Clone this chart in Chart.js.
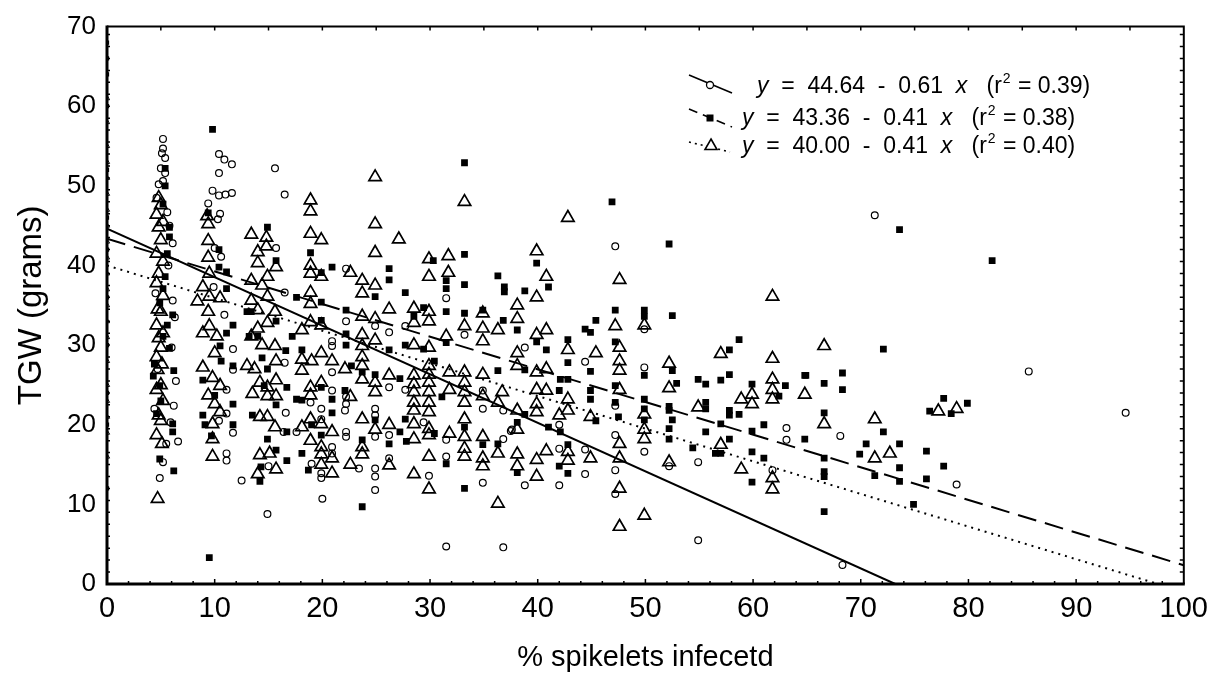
<!DOCTYPE html>
<html>
<head>
<meta charset="utf-8">
<script src="https://cdn.jsdelivr.net/npm/chart.js@4.4.1/dist/chart.umd.min.js"></script>
<style>
  html, body { margin: 0; padding: 0; background: #fff; }
  #wrap { width: 1216px; height: 677px; }
</style>
</head>
<body>
<div id="wrap"><canvas id="tgw"></canvas></div>
<script>
// TGW vs % spikelets infected — three series (circles, squares, triangles) + fitted lines

// x tick values / y tick values
const xTicks = [0, 10, 20, 30, 40, 50, 60, 70, 80, 90, 100];
const yTicks = [0, 10, 20, 30, 40, 50, 60, 70];

// open circles  [x, y]
const circlePts = [
    [5.2,55.9],[5.2,54.7],[5.1,54.1],[5.4,53.5],[5.0,52.2],[5.4,51.6],[4.8,50.2],[5.2,50.6],[4.6,48.5],[5.6,46.7],
    [5.8,45.0],[6.1,42.8],[5.7,40.0],[4.5,36.5],[6.1,35.6],[6.3,33.5],[6.0,29.7],[4.7,27.0],[6.4,25.5],[6.2,22.4],
    [4.4,22.0],[5.9,20.3],[6.6,17.9],[5.5,17.6],[5.2,15.3],[4.9,13.3],
    [10.4,54.0],[10.9,53.3],[11.6,52.7],[10.4,51.6],[9.8,49.4],[10.4,48.8],[11.0,48.9],[11.6,49.1],[9.4,47.8],[10.5,46.5],
    [10.3,45.8],[10.0,42.2],[10.6,41.1],[9.9,37.3],[10.9,33.8],[11.7,29.5],[11.7,26.9],[11.1,24.4],[11.1,21.4],[11.7,19.0],
    [11.1,16.4],[11.1,15.5],[10.4,20.5],
    [15.6,52.2],[12.5,13.0],[14.9,8.8],[15.7,42.2],[15.0,14.8],[16.4,19.1],
    [16.5,48.9],[22.2,39.6],[31.5,35.9],[16.5,36.6],[22.2,33.0],[24.9,32.4],[26.2,31.6],[27.7,32.4],[33.2,31.3],[20.9,30.5],
    [20.9,29.9],[16.5,27.8],[20.9,26.6],[27.7,24.4],[26.2,24.7],[34.9,24.3],[36.8,21.8],[18.9,22.8],[19.9,22.0],[20.9,24.3],
    [22.2,23.5],[22.1,21.8],[22.2,22.6],[16.6,21.5],[19.9,20.7],[17.6,19.1],[24.9,18.5],[24.9,22.0],[24.9,21.2],[26.2,18.7],
    [29.4,20.3],[31.5,18.1],[34.9,12.7],[34.9,22.0],[36.8,18.2],[37.5,19.2],[31.5,4.7],[36.8,4.6],[29.9,13.6],[31.5,16.0],
    [26.2,15.8],[24.9,14.5],[24.9,13.5],[24.9,11.8],[23.4,14.5],[20.0,10.7],[20.9,17.2],[20.9,16.4],[19.9,13.9],[19.9,13.3],
    [19.0,15.1],[22.2,19.1],[22.2,18.5],
    [47.2,42.4],[49.9,32.0],[38.8,29.7],[44.4,27.9],[49.9,27.2],[47.2,22.4],[49.9,16.6],[63.1,19.6],[63.1,18.1],[54.9,15.3],
    [61.8,14.3],[37.6,19.4],[42.0,20.0],[42.0,17.0],[38.8,12.4],[42.0,12.4],[44.4,16.9],[44.4,13.8],[47.2,18.7],[47.2,14.3],
    [47.2,11.3],[52.2,14.8],[54.9,5.5],
    [71.3,46.3],[85.6,26.7],[94.6,21.5],[68.1,18.6],[78.9,12.5],[68.3,2.4]
];

// filled squares  [x, y]
const squarePts = [
    [5.4,52.2],[5.4,50.0],[5.2,47.7],[5.8,44.8],[5.8,43.6],[5.6,41.5],[5.4,38.6],[5.2,37.1],[4.9,35.3],[6.1,33.8],
    [5.6,32.5],[5.2,31.1],[5.8,29.6],[4.4,27.6],[6.2,26.8],[4.3,26.1],[4.9,24.9],[5.0,23.0],[4.6,21.4],[6.1,20.1],
    [6.1,19.1],[4.9,15.7],[6.2,14.2],
    [9.8,57.1],[9.4,46.6],[10.4,42.0],[10.4,39.8],[11.1,39.2],[11.1,37.1],[11.7,32.5],[11.1,31.5],[10.5,29.9],[10.6,28.0],
    [11.7,27.4],[8.9,25.6],[10.0,23.7],[11.7,22.6],[8.9,21.2],[9.1,20.0],[9.7,18.6],[11.7,20.0],[9.5,3.3],
    [14.9,44.8],[15.7,40.6],[13.4,34.2],[13.0,34.2],[15.7,33.0],[14.0,31.1],[13.2,31.1],[16.6,29.3],[14.4,28.4],[14.9,27.0],
    [14.6,24.9],[16.7,24.7],[15.7,22.5],[13.5,21.2],[16.7,19.1],[14.9,18.2],[15.7,16.8],[16.7,15.5],[14.3,14.7],[14.2,12.9],
    [33.2,52.9],[18.9,41.6],[33.2,41.4],[30.3,40.6],[33.2,37.6],[20.9,39.8],[19.9,39.1],[26.2,39.6],[26.2,38.2],[24.9,36.1],
    [27.7,36.6],[31.5,38.1],[31.5,37.1],[36.3,38.7],[36.9,37.3],[36.9,36.7],[17.6,36.0],[19.9,35.4],[22.2,34.4],[29.4,34.7],
    [28.5,33.6],[31.5,34.2],[33.2,34.0],[34.9,34.4],[36.8,33.1],[19.9,33.1],[17.2,31.1],[22.2,31.4],[22.2,30.0],[31.5,30.3],
    [26.2,29.4],[27.7,30.0],[29.4,29.5],[18.1,29.4],[22.7,27.4],[23.7,26.6],[24.9,26.3],[27.2,25.8],[30.4,28.0],[31.1,23.5],
    [36.3,26.8],[19.9,24.7],[17.6,23.2],[18.1,23.1],[20.9,23.2],[22.1,24.3],[20.9,21.5],[19.0,20.0],[24.9,20.6],[26.2,17.6],
    [27.7,20.7],[27.2,19.1],[27.8,17.9],[30.4,18.9],[33.2,19.7],[34.9,17.5],[36.3,17.6],[31.5,15.1],[33.2,12.0],[23.7,18.1],
    [23.7,9.7],[19.9,18.7],[18.1,16.4],[18.7,14.3],
    [46.9,48.0],[52.2,42.7],[39.9,40.3],[41.0,37.3],[38.8,36.8],[38.1,31.9],[47.2,34.4],[49.9,34.4],[49.9,33.6],[52.5,33.7],
    [45.4,33.1],[44.4,32.0],[44.9,31.6],[58.7,30.7],[42.8,30.7],[47.2,30.4],[39.9,30.4],[40.8,29.4],[57.8,29.4],[42.8,27.8],
    [49.9,26.2],[52.5,26.8],[38.8,26.9],[44.9,26.7],[42.1,25.7],[42.8,25.7],[54.9,25.7],[55.6,25.1],[57.8,26.3],[57.0,25.6],
    [63.0,24.9],[62.4,23.6],[59.9,25.1],[64.8,26.2],[52.9,25.2],[47.2,24.9],[42.0,24.3],[44.9,24.3],[44.9,23.2],[47.2,22.8],
    [49.9,23.2],[49.9,22.0],[52.2,22.3],[52.2,21.8],[55.6,22.8],[55.6,22.0],[57.8,21.8],[57.8,21.2],[58.7,21.3],[38.8,21.3],
    [47.5,21.0],[45.4,20.5],[52.5,20.6],[49.9,20.6],[52.2,19.5],[52.2,18.2],[54.4,17.1],[55.6,19.1],[57.0,20.1],[57.8,18.2],
    [56.5,16.4],[57.0,16.4],[59.9,19.2],[59.9,16.6],[61.0,20.0],[61.0,15.8],[64.8,18.2],[59.9,12.8],[38.1,20.3],[41.0,19.7],
    [42.1,19.1],[42.8,17.5],[42.0,14.8],[42.8,13.9],[38.1,14.0],
    [73.6,44.5],[82.2,40.6],[72.1,29.5],[64.9,26.2],[68.3,26.5],[66.6,25.2],[68.3,24.4],[77.7,23.3],[79.9,22.7],[76.4,21.7],
    [78.4,21.4],[66.6,21.5],[72.1,19.1],[70.5,17.6],[73.6,17.6],[69.9,16.3],[76.1,16.7],[66.6,15.8],[66.6,14.1],[66.6,13.5],
    [71.3,13.6],[73.6,14.6],[73.6,12.9],[77.7,14.8],[76.1,13.2],[74.9,10.0],[66.6,9.1]
];

// open triangles  [x, y]
const trianglePts = [
    [4.8,48.5],[5.0,47.6],[4.6,46.4],[5.2,45.5],[4.8,44.8],[5.0,43.2],[4.6,41.5],[5.2,40.5],[4.8,39.0],[4.6,37.8],
    [5.2,36.2],[4.7,34.5],[5.0,34.2],[4.6,32.5],[5.2,31.5],[4.8,30.9],[5.0,29.7],[4.6,28.5],[5.1,27.6],[4.7,26.9],
    [5.0,25.0],[4.6,24.4],[5.2,23.0],[4.8,21.2],[5.0,20.5],[4.6,18.7],[5.1,17.6],[4.7,10.7],
    [9.3,46.2],[9.4,45.2],[9.4,43.1],[9.4,41.0],[9.5,39.0],[8.9,37.3],[8.4,35.5],[9.5,36.1],[10.5,35.9],[9.4,34.2],
    [8.9,31.5],[9.5,32.4],[10.2,31.1],[10.0,29.0],[8.9,27.2],[9.8,25.9],[9.4,23.7],[10.5,24.9],[10.0,22.6],[10.5,21.6],
    [9.8,20.1],[9.8,18.2],[9.8,16.0],
    [13.4,43.9],[14.8,43.5],[14.8,42.4],[14.0,41.7],[14.0,40.3],[15.7,39.8],[13.4,38.1],[14.9,38.6],[14.4,37.5],[13.4,35.6],
    [14.9,36.1],[14.0,34.4],[15.6,34.2],[14.9,32.8],[14.0,32.1],[13.4,31.1],[14.4,30.0],[15.6,29.9],[13.0,27.4],[13.7,27.0],
    [15.7,28.0],[14.2,25.3],[15.7,25.6],[14.9,24.7],[13.5,23.9],[14.9,23.6],[15.7,23.6],[14.2,21.0],[15.6,19.7],[14.9,21.0],
    [15.1,16.4],[14.2,16.2],[15.7,14.4],[14.0,13.8],
    [24.9,51.1],[33.2,48.0],[18.9,48.2],[18.9,46.8],[24.9,45.2],[18.9,44.0],[19.9,43.2],[27.1,43.3],[24.9,41.6],[29.9,40.8],
    [31.7,41.2],[29.9,38.6],[31.7,39.1],[18.9,40.0],[18.9,39.0],[19.9,38.6],[22.6,39.1],[23.7,38.1],[24.9,37.5],[23.7,36.5],
    [18.9,36.6],[18.9,35.2],[26.2,34.5],[28.5,34.6],[29.9,34.2],[29.9,33.0],[23.7,33.6],[24.9,33.3],[18.9,32.9],[19.9,32.5],
    [18.1,31.9],[23.7,31.3],[23.7,29.9],[24.9,30.6],[28.5,32.8],[33.2,32.4],[34.9,32.1],[36.3,31.9],[31.5,31.1],[34.9,30.5],
    [34.9,34.0],[28.5,30.0],[29.9,29.7],[19.9,29.0],[18.1,28.2],[19.0,28.0],[18.1,26.8],[20.9,28.0],[22.1,27.0],[23.7,28.5],
    [23.7,27.4],[23.7,25.7],[24.9,25.3],[24.9,24.1],[26.2,26.2],[28.5,26.2],[28.5,25.1],[28.5,24.1],[28.5,22.8],[28.5,21.8],
    [29.9,27.4],[29.9,26.3],[29.9,25.3],[29.9,24.1],[29.9,22.8],[29.9,21.6],[31.8,26.6],[31.8,24.4],[33.2,26.6],[33.2,25.3],
    [33.2,24.1],[33.2,22.8],[34.9,26.3],[34.9,23.6],[36.7,24.1],[36.3,22.8],[19.9,25.3],[18.9,24.7],[18.9,23.7],[22.6,23.5],
    [18.9,20.7],[19.9,20.1],[18.1,19.7],[20.9,19.1],[23.7,20.7],[24.9,19.4],[26.2,20.0],[28.5,20.1],[28.5,18.2],[29.9,19.5],
    [29.9,18.7],[31.8,18.9],[33.2,20.7],[33.2,18.5],[33.2,17.0],[33.2,16.0],[34.9,18.5],[34.9,15.8],[34.9,14.8],[36.3,16.4],
    [36.3,10.1],[29.9,16.0],[28.5,13.8],[29.9,11.9],[26.2,14.9],[23.7,17.2],[23.7,16.3],[22.6,15.0],[20.9,15.8],[20.9,13.9],
    [19.9,17.2],[19.9,16.3],[19.9,15.0],[18.9,18.0],
    [42.8,46.0],[47.6,38.2],[39.9,41.8],[40.8,38.6],[39.9,36.0],[61.8,36.1],[38.1,35.0],[38.1,33.3],[47.2,32.4],[49.9,32.5],
    [40.8,31.9],[39.9,31.3],[42.8,29.4],[47.6,29.7],[45.4,29.0],[57.0,28.9],[61.8,28.3],[38.1,29.0],[38.1,27.4],[47.6,28.0],
    [47.6,26.8],[52.2,27.7],[39.9,26.6],[40.8,27.0],[61.8,25.7],[61.8,24.4],[61.8,23.2],[59.9,23.8],[59.9,22.6],[58.9,23.2],
    [64.8,23.8],[52.2,24.6],[47.6,24.4],[40.8,24.3],[39.9,24.4],[42.8,23.2],[42.8,21.8],[49.9,21.3],[54.9,22.2],[38.1,21.8],
    [39.9,22.6],[39.9,21.6],[42.0,21.2],[44.9,21.0],[49.9,19.4],[49.9,18.2],[57.0,17.5],[58.9,14.4],[61.8,13.3],[61.8,11.9],
    [38.1,19.4],[42.8,16.6],[42.8,15.5],[40.8,16.7],[39.9,15.6],[39.9,13.5],[38.1,16.3],[38.1,14.8],[44.9,15.8],[47.6,17.6],
    [47.6,15.8],[47.6,12.0],[47.6,7.2],[49.9,8.6],[52.2,15.3],
    [66.6,29.9],[77.2,21.7],[78.9,22.0],[66.6,20.1],[71.3,20.7],[71.3,15.8],[72.7,16.4]
];

// samples at 0 % (squeezed against the y axis)
const zeroTriPts = [[0,16],[0,19],[0,21],[0,23],[0,25],[0,28],[0,31],[0,33],[0,35],[0,37],[0,39],[0,41],[0,43],
                    [0,45],[0,47],[0,49],[0,51],[0,53],[0,55],[0,58],[0,61]];
const zeroSqPts  = [[0,12],[0,20],[0,24],[0,30],[0,36],[0,42],[0,46],[0,52],[0,60],[0,64],[0,66],[0,68]];

// fitted lines (end points read from the equations)
const fitCircle   = [[0,44.64],[73.2,0]];
const fitSquare   = [[0,43.36],[100,2.36]];
const fitTriangle = [[0,40.00],[97.6,0]];

const legendRows = [
    { a: '44.64', b: '0.61', r2: '0.39' },
    { a: '43.36', b: '0.41', r2: '0.38' },
    { a: '40.00', b: '0.41', r2: '0.40' },
];

const toXY = arr => arr.map(p => ({ x: p[0], y: p[1] }));

function drawMarker(ctx, kind, x, y) {
    ctx.save();
    ctx.strokeStyle = '#000';
    ctx.fillStyle = '#000';
    ctx.setLineDash([]);
    if (kind === 'circle') {
        ctx.lineWidth = 1.3;
        ctx.fillStyle = '#fff';
        ctx.beginPath(); ctx.arc(x, y, 3.5, 0, Math.PI * 2); ctx.fill(); ctx.stroke();
    } else if (kind === 'square') {
        ctx.fillRect(x - 3.5, y - 3.5, 7, 7);
    } else {
        ctx.lineWidth = 1.6;
        ctx.fillStyle = '#fff';
        ctx.beginPath();
        ctx.moveTo(x, y - 7); ctx.lineTo(x + 6, y + 3.5); ctx.lineTo(x - 6, y + 3.5); ctx.closePath();
        ctx.fill(); ctx.stroke();
    }
    ctx.restore();
}

const framePlugin = {
    id: 'frame',
    afterDraw(chart) {
        const { ctx, chartArea: a, scales: { x, y } } = chart;
        ctx.save();
        ctx.strokeStyle = '#000';
        ctx.setLineDash([]);

        // small inward ticks
        ctx.lineWidth = 1.5;
        ctx.beginPath();
        for (let v = 2; v < 100; v += 2) {
            const px = x.getPixelForValue(v);
            const len = v % 10 === 0 ? 5 : 3;
            ctx.moveTo(px, a.bottom); ctx.lineTo(px, a.bottom - len);
        }
        for (let v = 5; v < 100; v += 5) {
            const px = x.getPixelForValue(v);
            ctx.moveTo(px, a.top); ctx.lineTo(px, a.top + 4);
        }
        for (let v = 1.5; v < 70; v += 1.5) {
            const py = y.getPixelForValue(v);
            ctx.moveTo(a.right, py); ctx.lineTo(a.right - 4, py);
            ctx.moveTo(a.left, py); ctx.lineTo(a.left + 3, py);
        }
        ctx.stroke();

        // frame: heavy left/bottom, lighter top/right
        ctx.lineWidth = 2;
        ctx.beginPath();
        ctx.moveTo(a.left, a.top); ctx.lineTo(a.right, a.top); ctx.lineTo(a.right, a.bottom);
        ctx.stroke();
        ctx.lineWidth = 3;
        ctx.beginPath();
        ctx.moveTo(a.left, a.top - 1); ctx.lineTo(a.left, a.bottom); ctx.lineTo(a.right + 1, a.bottom);
        ctx.stroke();

        // legend
        const kinds = ['circle', 'square', 'triangle'];
        const dashes = [[], [9, 6], [2, 4]];
        const sample = [
            { x0: 689, y0: 75, x1: 732, y1: 93, mx: 710, my: 85, tx: 757, base: 93 },
            { x0: 689, y0: 109, x1: 732, y1: 127, mx: 710, my: 118, tx: 742, base: 125 },
            { x0: 689, y0: 142, x1: 730, y1: 152, mx: 711, my: 146, tx: 742, base: 153 },
        ];
        legendRows.forEach((row, i) => {
            const s = sample[i];
            ctx.lineWidth = 1.6;
            ctx.setLineDash(dashes[i]);
            ctx.beginPath(); ctx.moveTo(s.x0, s.y0); ctx.lineTo(s.x1, s.y1); ctx.stroke();
            ctx.setLineDash([]);
            drawMarker(ctx, kinds[i], s.mx, s.my);

            ctx.fillStyle = '#000';
            ctx.textBaseline = 'alphabetic';
            ctx.textAlign = 'left';
            const norm = '23px "Liberation Sans", Arial, sans-serif';
            const ital = 'italic 23px "Liberation Sans", Arial, sans-serif';
            const sup = '14px "Liberation Sans", Arial, sans-serif';
            const parts = [
                [ital, 'y', 0, 0],
                [norm, '  =  ' + row.a + '  -  ' + row.b + '  ', 0, 0],
                [ital, 'x', 0, 0],
                [norm, '   (r', 0, 1],
                [sup, '2', -10, 1],
                [norm, ' = ' + row.r2 + ')', 0, 0],
            ];
            let cx = s.tx;
            parts.forEach(([f, t, dy, gap]) => {
                ctx.font = f;
                ctx.fillText(t, cx, s.base + dy);
                cx += ctx.measureText(t).width + gap;
            });
        });
        ctx.restore();
    }
};

const ctx = document.getElementById('tgw').getContext('2d');
new Chart(ctx, {
    type: 'scatter',
    data: {
        datasets: [
            {
                label: 'fit circles', data: toXY(fitCircle), showLine: true,
                borderColor: '#000', borderWidth: 2, pointRadius: 0, pointHoverRadius: 0,
            },
            {
                label: 'fit squares', data: toXY(fitSquare), showLine: true,
                borderColor: '#000', borderWidth: 2, borderDash: [19, 9], pointRadius: 0, pointHoverRadius: 0,
            },
            {
                label: 'fit triangles', data: toXY(fitTriangle), showLine: true,
                borderColor: '#000', borderWidth: 2, borderDash: [2, 5], pointRadius: 0, pointHoverRadius: 0,
            },
            {
                label: 'circles', data: toXY(circlePts), pointStyle: 'circle', pointRadius: 3.4,
                borderColor: '#000', borderWidth: 1.2, backgroundColor: 'rgba(255,255,255,0)',
            },
            {
                label: 'squares', data: toXY(squarePts), pointStyle: 'rect', pointRadius: 4.8,
                borderColor: '#000', borderWidth: 0, backgroundColor: '#000',
            },
            {
                label: 'triangles', data: toXY(trianglePts), pointStyle: 'triangle', pointRadius: 7.2,
                borderColor: '#000', borderWidth: 1.7, backgroundColor: 'rgba(255,255,255,0)',
            },
            {
                label: 'zero triangles', data: toXY(zeroTriPts), pointStyle: 'triangle', pointRadius: 3,
                borderColor: '#000', borderWidth: 1, backgroundColor: 'rgba(255,255,255,0)',
            },
            {
                label: 'zero squares', data: toXY(zeroSqPts), pointStyle: 'rect', pointRadius: 3,
                borderColor: '#000', borderWidth: 0, backgroundColor: '#000',
            },
        ],
    },
    options: {
        responsive: true,
        maintainAspectRatio: false,
        animation: false,
        events: [],
        layout: { padding: { top: 20, right: 29, left: 0, bottom: 0 } },
        plugins: { legend: { display: false }, tooltip: { enabled: false } },
        scales: {
            x: {
                type: 'linear', min: 0, max: 100,
                afterFit: s => { s.height = 93; },
                afterBuildTicks: s => { s.ticks = xTicks.map(v => ({ value: v })); },
                grid: { display: false, drawTicks: false },
                border: { display: false },
                ticks: {
                    padding: 8, color: '#000', maxRotation: 0,
                    font: { family: '"Liberation Sans", Arial, sans-serif', size: 29 },
                },
                title: {
                    display: true, text: '% spikelets infecetd', color: '#000',
                    padding: { top: 0, bottom: 2 },
                    font: { family: '"Liberation Sans", Arial, sans-serif', size: 29 },
                },
            },
            y: {
                type: 'linear', min: 0, max: 70,
                afterFit: s => { s.width = 107; },
                afterBuildTicks: s => { s.ticks = yTicks.map(v => ({ value: v })); },
                grid: { display: false, drawTicks: false },
                border: { display: false },
                ticks: {
                    padding: 11, color: '#000',
                    font: { family: '"Liberation Sans", Arial, sans-serif', size: 26 },
                },
                title: {
                    display: true, text: 'TGW (grams)', color: '#000',
                    padding: { top: 12, bottom: 0 },
                    font: { family: '"Liberation Sans", Arial, sans-serif', size: 33 },
                },
            },
        },
    },
    plugins: [framePlugin],
});
</script>
</body>
</html>
